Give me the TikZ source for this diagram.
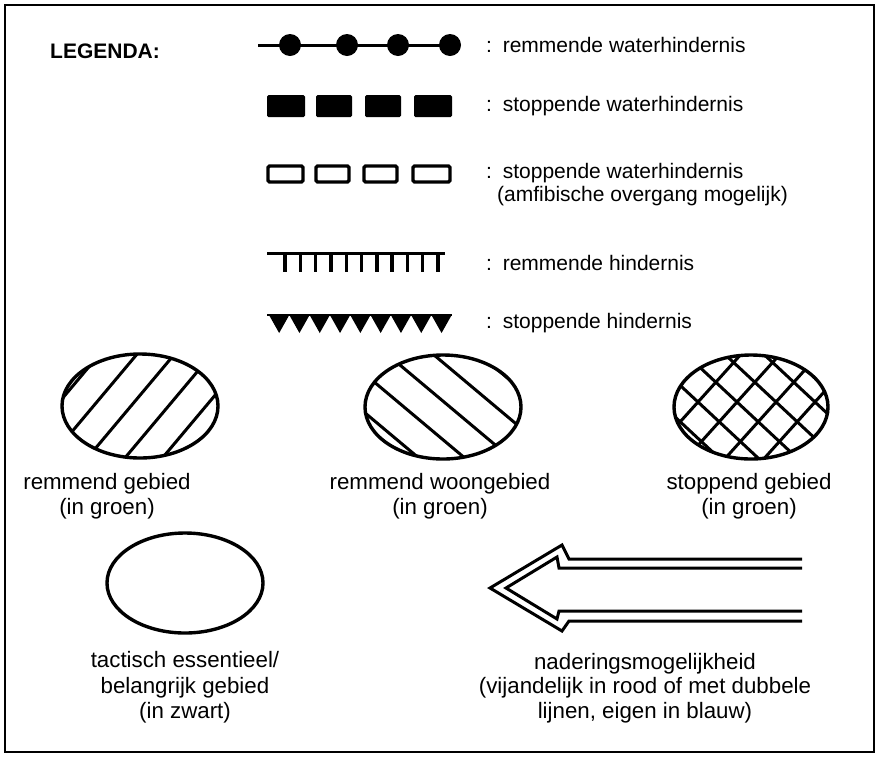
\documentclass[tikz,border=0pt]{standalone}
\usepackage{fontspec}
\setmainfont{Liberation Sans}
\usetikzlibrary{calc}
\begin{document}
\begin{tikzpicture}[x=1pt,y=-1pt,
  lbl/.style={font=\fontsize{21}{25}\selectfont, inner sep=0pt, anchor=base west},
  captxt/.style={font=\fontsize{22.3}{26}\selectfont, inner sep=0pt, anchor=base},
  thickline/.style={line width=3pt},
  hatch/.style={line width=3pt},
  oval/.style={line width=3.4pt}]
\useasboundingbox (0,0) rectangle (881,756);
\draw[line width=1.5pt] (5,5) rectangle (874,752);
% title
\node[font=\fontsize{21}{25}\selectfont\bfseries, inner sep=0pt, anchor=base west] (title) at (50,58) {LEGENDA:};
% row 1
\draw[thickline] (258,45) -- (460,45);
\foreach \x in {290,347,398,450} \fill (\x,45) circle (11);
\node[lbl] (l1) at (486,52) {:\hspace{3pt} remmende waterhindernis};
% row 2
\foreach \a/\b in {267/305,316/352,365/401,414/452}
  \fill[rounded corners=1.5pt] (\a,95) rectangle (\b,117);
\node[lbl] (l2) at (486,111) {:\hspace{3pt} stoppende waterhindernis};
% row 3
\foreach \a/\b in {268/303,316/349,364/397,413/450}
  \draw[line width=3.4pt, rounded corners=1.5pt] (\a,166) rectangle (\b,182);
\node[lbl] (l3) at (486,178) {:\hspace{3pt} stoppende waterhindernis};
\node[lbl] (l3b) at (497,201) {(amfibische overgang mogelijk)};
% row 4
\draw[thickline] (267,253) -- (445,253);
\foreach \i in {0,...,10} \draw[line width=3.4pt] ({285+\i*15.3},253) -- ({285+\i*15.3},272);
\node[lbl] (l4) at (486,270) {:\hspace{3pt} remmende hindernis};
% row 5
\draw[line width=2.4pt] (267,315) -- (452,315);
\foreach \i in {0,...,8} \fill ({269+\i*20.3},315) -- ({289.3+\i*20.3},315) -- ({279.15+\i*20.3},333) -- cycle;
\node[lbl] (l5) at (486,328) {:\hspace{3pt} stoppende hindernis};
% ellipse 1
\begin{scope}
  \clip (140,406) ellipse [x radius=78, y radius=52];
  \foreach \x in {56,93.5,131,168.5,206}
    \draw[hatch] ($(\x,406)+(-50:90)$) -- ($(\x,406)+(130:90)$);
\end{scope}
\draw[oval] (140,406) ellipse [x radius=78, y radius=52];
\node[captxt] (c1a) at (107,489) {remmend gebied};
\node[captxt] (c1b) at (107,514) {(in groen)};
% ellipse 2
\begin{scope}
  \clip (443,407) ellipse [x radius=78, y radius=52];
  \foreach \x in {358,404,450,496,542}
    \draw[hatch] ($(\x,407)+(40:100)$) -- ($(\x,407)+(220:100)$);
\end{scope}
\draw[oval] (443,407) ellipse [x radius=78, y radius=52];
\node[captxt] (c2a) at (440,489) {remmend woongebied};
\node[captxt] (c2b) at (440,514) {(in groen)};
% ellipse 3
\begin{scope}
  \clip (751,407) ellipse [x radius=77, y radius=52];
  \foreach \k in {-4,...,4} {
    \draw[hatch] ($(737+\k*39,402)+(43:120)$) -- ($(737+\k*39,402)+(223:120)$);
    \draw[hatch] ($(737+\k*39,402)+(-48:120)$) -- ($(737+\k*39,402)+(132:120)$);
  }
\end{scope}
\draw[oval] (751,407) ellipse [x radius=77, y radius=52];
\node[captxt] (c3a) at (749,489) {stoppend gebied};
\node[captxt] (c3b) at (749,514) {(in groen)};
% ellipse 4
\draw[oval] (185,583) ellipse [x radius=78, y radius=50];
\node[captxt] (c4a) at (185,667) {tactisch essentieel/};
\node[captxt] (c4b) at (185,693) {belangrijk gebied};
\node[captxt] (c4c) at (185,718) {(in zwart)};
% arrow
\draw[line width=3pt, line join=miter] (802,559) -- (569,559) -- (562,545) -- (490,588) -- (562,631) -- (569,621) -- (802,621);
\draw[line width=3pt, line join=miter] (802,568) -- (559,568) -- (557,557) -- (506,588) -- (557,619) -- (559,611) -- (802,611);
\node[captxt] (c5a) at (645,669) {naderingsmogelijkheid};
\node[captxt] (c5b) at (645,693) {(vijandelijk in rood of met dubbele};
\node[captxt] (c5c) at (645,718) {lijnen, eigen in blauw)};
\end{tikzpicture}
\end{document}
